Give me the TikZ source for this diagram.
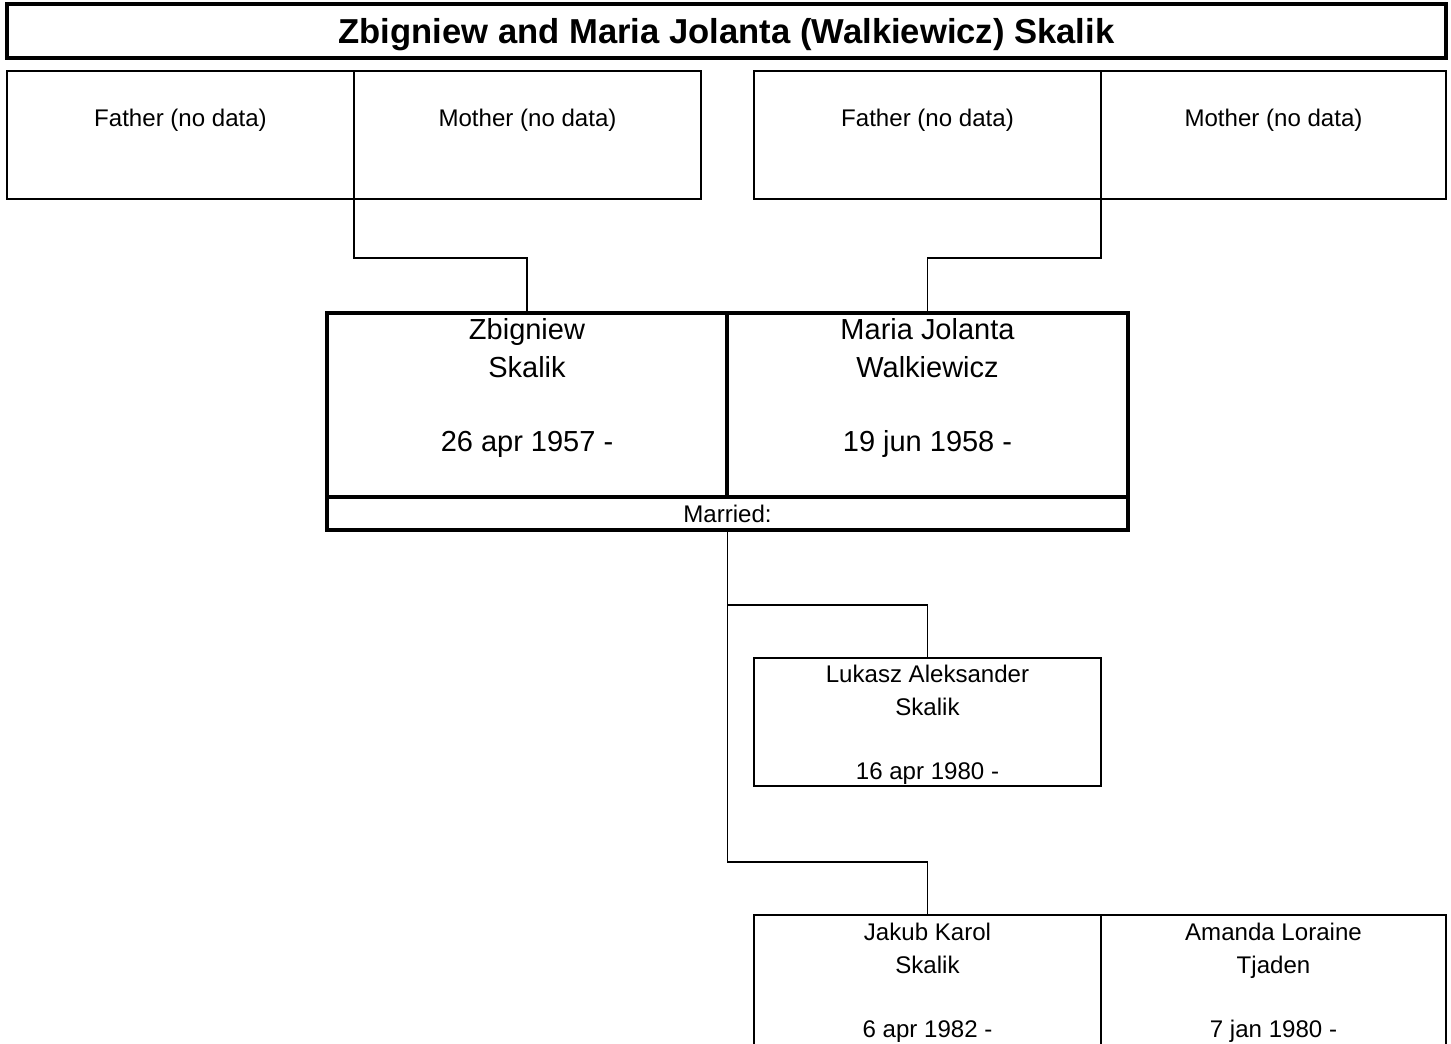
\documentclass[tikz,border=0pt]{standalone}
\usepackage{fontspec}
\setmainfont{Liberation Sans}
\usepackage{tikz}
\usetikzlibrary{positioning}
\newcommand{\pxu}{0.02cm}
\newcommand{\smallfont}{\fontsize{13.7}{18.4}\selectfont}
\newcommand{\bigfont}{\fontsize{16.5}{21.2}\selectfont}
\newcommand{\titlefont}{\fontsize{19.7}{24}\selectfont\bfseries}

\begin{document}
\begin{tikzpicture}[
    x=\pxu, y=-\pxu,
    slot/.style={draw, line width=0.8pt, inner sep=0pt, outer sep=0pt,
                 minimum width=347*\pxu, minimum height=128*\pxu},
    couple/.style={draw, line width=1.8pt, inner sep=0pt, outer sep=0pt,
                   minimum height=184*\pxu},
    link/.style={line width=0.8pt},
    txt/.style={font=\smallfont, align=center, inner sep=0pt},
    bigtxt/.style={font=\bigfont, align=center, inner sep=0pt},
  ]
    \useasboundingbox (0,0) rectangle (1451,1044);

    \node[draw, line width=1.8pt, inner sep=0pt, text depth=0pt,
          minimum width=1439*\pxu, minimum height=54*\pxu,
          font=\titlefont] (title) at (726.5,31)
      {Zbigniew and Maria Jolanta (Walkiewicz) Skalik};

    % grandparents
    \node[slot] (fa1) at (180.5,135) {};
    \node[slot] (mo1) at (527.5,135) {};
    \node[slot] (fa2) at (927.5,135) {};
    \node[slot, minimum width=345*\pxu] (mo2) at (1273.5,135) {};
    \node[txt] (fa1t) at (180.5,120.5) {Father (no data)};
    \node[txt] (mo1t) at (527.5,120.5) {Mother (no data)};
    \node[txt] (fa2t) at (927.5,120.5) {Father (no data)};
    \node[txt] (mo2t) at (1273.5,120.5) {Mother (no data)};

    % couple
    \node[couple, minimum width=400*\pxu] (husb) at (527,405) {};
    \node[couple, minimum width=401*\pxu] (wife) at (927.5,405) {};
    \node[couple, minimum width=801*\pxu, minimum height=33*\pxu,
          font=\smallfont] (marr) at (727.5,513.5) {Married:};
    \node[bigtxt, anchor=north] (husbt) at (527,318.5)
      {Zbigniew\\Skalik\\ \\26 apr 1957 -};
    \node[bigtxt, anchor=north] (wifet) at (927.5,318.5)
      {Maria Jolanta\\Walkiewicz\\ \\19 jun 1958 -};

    % children
    \node[slot] (son1) at (927.5,722) {};
    \node[slot, minimum height=132*\pxu] (son2) at (927.5,981) {};
    \node[slot, minimum height=132*\pxu, minimum width=345*\pxu] (spouse2)
      at (1273.5,981) {};
    \node[txt, anchor=north] (son1t) at (927.5,665)
      {Lukasz Aleksander\\Skalik\\ \\16 apr 1980 -};
    \node[txt, anchor=north] (son2t) at (927.5,923)
      {Jakub Karol\\Skalik\\ \\6 apr 1982 -};
    \node[txt, anchor=north] (spouse2t) at (1273.5,923)
      {Amanda Loraine\\Tjaden\\ \\7 jan 1980 -};

    \coordinate (fork1) at (727.5,605);
    \coordinate (fork2) at (727.5,862);

    \draw[link] (fa1.north east) -- ++(0,187) -| (husb.north);
    \draw[link] (mo2.north west) -- ++(0,187) -| (wife.north);
    \draw[link] (marr.south) -- (fork2) -| (son2.north);
    \draw[link] (fork1) -| (son1.north);
  \end{tikzpicture}
\end{document}
